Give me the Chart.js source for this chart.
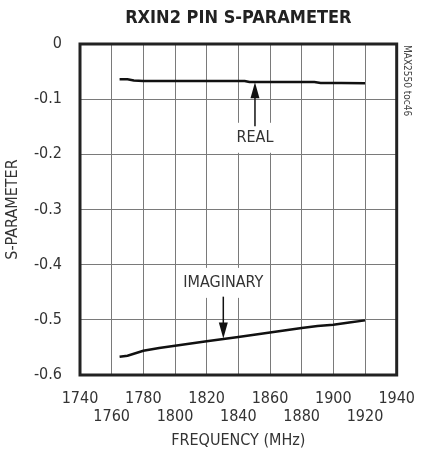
<!DOCTYPE html>
<html>
<head>
<meta charset="utf-8">
<script src="https://cdn.jsdelivr.net/npm/chart.js@4/dist/chart.umd.min.js"></script>
<style>
  body { margin: 0; background: #fff; }
</style>
</head>
<body>
<canvas id="sparamChart" width="430" height="451"></canvas>
<script>
// frequency (MHz) and S-parameter readings
const realFreq = [1765, 1770, 1774, 1780, 1800, 1820, 1844, 1847, 1860, 1880, 1888, 1892, 1905, 1920];
const realValues = [-0.064, -0.064, -0.066, -0.067, -0.067, -0.067, -0.067, -0.069, -0.069, -0.069, -0.069, -0.0705, -0.0705, -0.071];
const imagFreq = [1765, 1770, 1780, 1790, 1800, 1820, 1840, 1860, 1880, 1890, 1900, 1910, 1920];
const imagValues = [-0.567, -0.565, -0.556, -0.551, -0.547, -0.539, -0.531, -0.523, -0.515, -0.511, -0.509, -0.505, -0.501];
const yTicks = [0, -0.1, -0.2, -0.3, -0.4, -0.5, -0.6];

// label text, where the label sits, and where its arrow points
const notes = [
    { text: 'REAL', x: 1850.5, labelY: -0.17, fromY: -0.149, toY: -0.0695 },
    { text: 'IMAGINARY', x: 1830.5, labelY: -0.433, fromY: -0.458, toY: -0.534 }
];

const FONT = "'Liberation Sans Narrow', 'Arial Narrow', 'DejaVu Sans Condensed', sans-serif";
Chart.defaults.font.family = FONT;
Chart.defaults.color = '#333';

const toPoints = (xs, ys) => xs.map((x, i) => ({ x: x, y: ys[i] }));

const notesPlugin = {
    id: 'notes',
    beforeDatasetsDraw(chart) {
        const ctx = chart.ctx;
        const xs = chart.scales.x, ys = chart.scales.y;
        ctx.save();
        ctx.font = '16px ' + FONT;
        ctx.textAlign = 'center';
        ctx.textBaseline = 'middle';
        notes.forEach(n => {
            const px = xs.getPixelForValue(n.x);
            const py = ys.getPixelForValue(n.labelY);
            const w = ctx.measureText(n.text).width;
            ctx.fillStyle = '#fff';
            ctx.fillRect(px - w / 2 - 5, py - 15, w + 10, 30);
            ctx.fillStyle = '#333';
            ctx.fillText(n.text, px, py);
        });
        ctx.restore();
    },
    afterDatasetsDraw(chart) {
        const ctx = chart.ctx;
        const xs = chart.scales.x, ys = chart.scales.y;
        const area = chart.chartArea;
        ctx.save();
        ctx.strokeStyle = '#111';
        ctx.fillStyle = '#111';
        ctx.lineWidth = 1.5;
        notes.forEach(n => {
            const px = xs.getPixelForValue(n.x);
            const y0 = ys.getPixelForValue(n.fromY);
            const y1 = ys.getPixelForValue(n.toY);
            const dir = y1 > y0 ? 1 : -1;
            ctx.beginPath();
            ctx.moveTo(px, y0);
            ctx.lineTo(px, y1 - dir * 12);
            ctx.stroke();
            ctx.beginPath();
            ctx.moveTo(px, y1);
            ctx.lineTo(px - 4.5, y1 - dir * 16);
            ctx.lineTo(px + 4.5, y1 - dir * 16);
            ctx.closePath();
            ctx.fill();
        });
        // frame
        ctx.lineWidth = 3;
        ctx.strokeStyle = '#222';
        ctx.strokeRect(area.left, area.top, area.right - area.left, area.bottom - area.top);
        // side note
        ctx.translate(area.right + 10, area.top + 1);
        ctx.rotate(Math.PI / 2);
        ctx.font = '10px ' + FONT;
        ctx.fillStyle = '#444';
        ctx.textAlign = 'left';
        ctx.textBaseline = 'middle';
        ctx.fillText('MAX2550 toc46', 0, 0);
        ctx.restore();
    }
};

new Chart(document.getElementById('sparamChart').getContext('2d'), {
    type: 'line',
    data: {
        datasets: [
            {
                label: 'REAL',
                data: toPoints(realFreq, realValues),
                borderColor: '#111',
                borderWidth: 2.5,
                pointRadius: 0,
                tension: 0
            },
            {
                label: 'IMAGINARY',
                data: toPoints(imagFreq, imagValues),
                borderColor: '#111',
                borderWidth: 2.5,
                pointRadius: 0,
                tension: 0
            }
        ]
    },
    options: {
        responsive: false,
        animation: false,
        layout: { padding: { left: 0, right: 19, top: 0, bottom: 0 } },
        plugins: {
            legend: { display: false },
            tooltip: { enabled: false },
            title: {
                display: true,
                text: 'RXIN2 PIN S-PARAMETER',
                fullSize: false,
                color: '#222',
                font: { size: 18, weight: 'bold', lineHeight: 1.2 },
                padding: { top: 8, bottom: 14.4 }
            }
        },
        scales: {
            x: {
                type: 'linear',
                min: 1740,
                max: 1940,
                afterFit: scale => { scale.height = 76; },
                afterBuildTicks: scale => {
                    scale.ticks = [];
                    for (let v = 1740; v <= 1940; v += 20) scale.ticks.push({ value: v });
                },
                grid: { color: '#7a7a7a', lineWidth: 1, drawTicks: false },
                border: { display: false },
                ticks: {
                    autoSkip: false,
                    maxRotation: 0,
                    padding: 15,
                    font: { size: 16, lineHeight: 1.1 },
                    callback: (value, index) => index % 2 ? ['', String(value)] : String(value)
                },
                title: {
                    display: true,
                    text: 'FREQUENCY (MHz)',
                    font: { size: 16, lineHeight: 1.2 },
                    padding: { top: 0, bottom: 1 }
                }
            },
            y: {
                min: -0.6,
                max: 0,
                afterFit: scale => { scale.width = 80; },
                afterBuildTicks: scale => {
                    scale.ticks = yTicks.map(v => ({ value: v }));
                },
                grid: { color: '#7a7a7a', lineWidth: 1, drawTicks: false },
                border: { display: false },
                ticks: {
                    padding: 18,
                    font: { size: 16 },
                    callback: value => value === 0 ? '0' : value.toFixed(1)
                },
                title: {
                    display: true,
                    text: 'S-PARAMETER',
                    font: { size: 16, lineHeight: 1.2 },
                    padding: { top: 3, bottom: 0 }
                }
            }
        }
    },
    plugins: [notesPlugin]
});
</script>
</body>
</html>
